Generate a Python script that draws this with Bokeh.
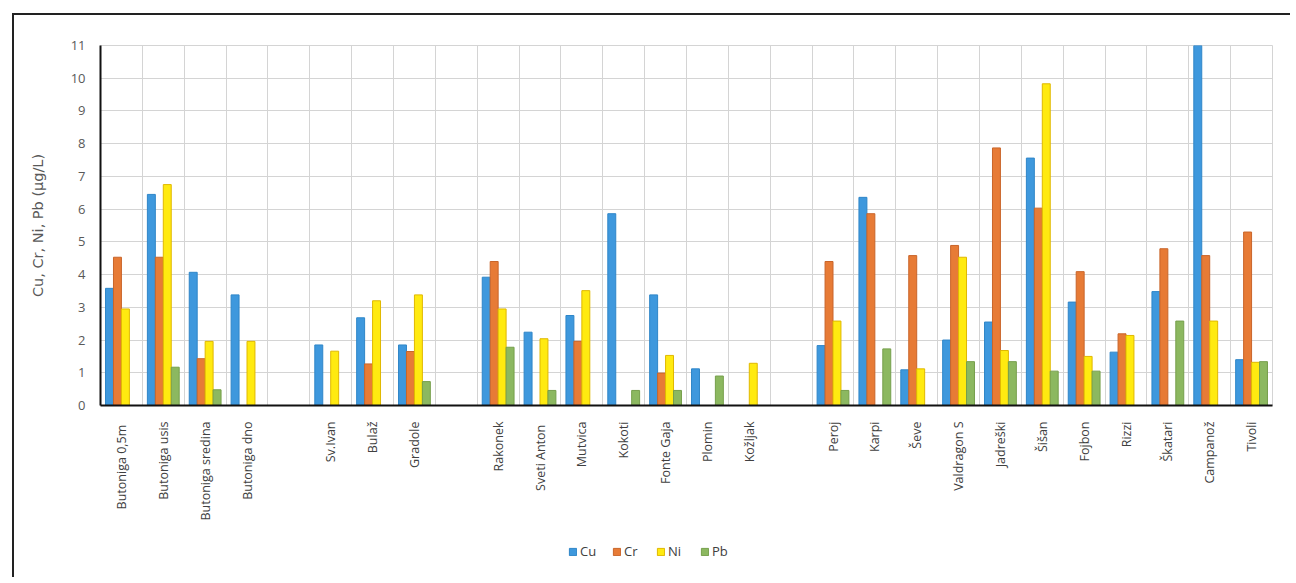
import numpy as np
from bokeh.plotting import figure
from bokeh.layouts import column
from bokeh.models import ColumnDataSource, Range1d, FixedTicker, Legend, LegendItem
from bokeh.transform import dodge
from bokeh.embed import file_html
from bokeh.resources import INLINE

nan = np.nan

categories = [
    "Butoniga  0,5m", "Butoniga usis", "Butoniga sredina", "Butoniga dno", "",
    "Sv.Ivan", "Bulaž", "Gradole", "",
    "Rakonek", "Sveti  Anton", "Mutvica", "Kokoti", "Fonte Gaja", "Plomin", "Kožljak", "",
    "Peroj", "Karpi", "Ševe", "Valdragon S", "Jadreški", "Šišan", "Fojbon", "Rizzi",
    "Škatari", "Campanož", "Tivoli",
]
cu = [3.58, 6.45, 4.07, 3.38, nan, 1.85, 2.68, 1.85, nan,
      3.92, 2.24, 2.75, 5.86, 3.38, 1.12, nan, nan,
      1.83, 6.36, 1.09, 2.00, 2.55, 7.56, 3.16, 1.63, 3.48, 11.0, 1.40]
cr = [4.53, 4.53, 1.43, nan, nan, nan, 1.27, 1.65, nan,
      4.40, nan, 1.96, nan, 0.99, nan, nan, nan,
      4.40, 5.86, 4.58, 4.89, 7.87, 6.03, 4.09, 2.19, 4.79, 4.58, 5.30]
ni = [2.95, 6.75, 1.96, 1.96, nan, 1.66, 3.20, 3.38, nan,
      2.95, 2.04, 3.51, nan, 1.53, nan, 1.29, nan,
      2.58, nan, 1.12, 4.53, 1.68, 9.83, 1.50, 2.14, nan, 2.58, 1.32]
pb = [nan, 1.17, 0.48, nan, nan, nan, nan, 0.73, nan,
      1.78, 0.46, nan, 0.46, 0.46, 0.90, nan, nan,
      0.46, 1.73, nan, 1.34, 1.34, 1.05, 1.05, nan, 2.58, nan, 1.34]

series = ["Cu", "Cr", "Ni", "Pb"]
fill_colors = ["#3E98DD", "#E77B36", "#FFEA10", "#8CB860"]
line_colors = ["#2F86C8", "#C9652A", "#E0B800", "#769F4C"]
y_ticks = list(range(0, 12))
y_label = "Cu, Cr, Ni, Pb (µg/L)"

x_centers = [i + 0.5 for i in range(len(categories))]
src = ColumnDataSource(dict(
    x=x_centers,
    Cu=np.array(cu, dtype=float),
    Cr=np.array(cr, dtype=float),
    Ni=np.array(ni, dtype=float),
    Pb=np.array(pb, dtype=float),
))

p = figure(
    width=1276, height=520,
    x_range=Range1d(0, len(categories)), y_range=Range1d(0, 11),
    output_backend="svg", toolbar_location=None,
    min_border_left=86, min_border_right=18, min_border_top=30, min_border_bottom=130,
)

bar_w = 0.19
offsets = [-1.5 * bar_w, -0.5 * bar_w, 0.5 * bar_w, 1.5 * bar_w]
for s, off, fc, lc in zip(series, offsets, fill_colors, line_colors):
    p.vbar(x=dodge("x", off), top=s, width=bar_w, bottom=0, source=src,
           fill_color=fc, line_color=lc, line_width=1)

# grid
p.xgrid.ticker = FixedTicker(ticks=list(range(len(categories) + 1)))
p.ygrid.ticker = FixedTicker(ticks=y_ticks)
p.xgrid.grid_line_color = "#D4D4D4"
p.ygrid.grid_line_color = "#D4D4D4"
p.outline_line_color = "#D4D4D4"

# x axis
p.xaxis.ticker = FixedTicker(ticks=x_centers)
p.xaxis.major_label_overrides = {xc: c for xc, c in zip(x_centers, categories)}
p.xaxis.major_label_orientation = np.pi / 2
p.xaxis.major_label_standoff = 10
p.xaxis.major_label_text_font = "Open Sans"
p.xaxis.major_label_text_font_size = "12.5px"
p.xaxis.major_label_text_color = "#404040"
p.xaxis.major_tick_line_color = None
p.xaxis.minor_tick_line_color = None
p.xaxis.axis_line_color = "#111111"
p.xaxis.axis_line_width = 2

# y axis
p.yaxis.ticker = FixedTicker(ticks=y_ticks)
p.yaxis.major_label_text_font = "Open Sans"
p.yaxis.major_label_text_font_size = "13px"
p.yaxis.major_label_text_color = "#595959"
p.yaxis.major_tick_line_color = None
p.yaxis.minor_tick_line_color = None
p.yaxis.axis_line_color = "#111111"
p.yaxis.axis_line_width = 2
p.yaxis.major_label_standoff = 9
p.yaxis.axis_label = y_label
p.yaxis.axis_label_text_font = "DejaVu Sans"
p.yaxis.axis_label_text_font_size = "14.5px"
p.yaxis.axis_label_text_font_style = "normal"
p.yaxis.axis_label_text_color = "#595959"
p.yaxis.axis_label_standoff = 22

# legend strip below the chart
lf = figure(width=1276, height=42, x_range=Range1d(0, 1), y_range=Range1d(0, 1),
            output_backend="svg", toolbar_location=None,
            min_border_left=0, min_border_right=0, min_border_top=0, min_border_bottom=0)
lf.axis.visible = False
lf.grid.visible = False
lf.outline_line_color = None
items = []
for s, fc, lc in zip(series, fill_colors, line_colors):
    r = lf.vbar(x=[-10], top=[-5], bottom=[-6], width=0.1, fill_color=fc, line_color=lc)
    items.append(LegendItem(label=s, renderers=[r]))
legend = Legend(items=items, orientation="horizontal", location=(468, 17),
                border_line_color=None, background_fill_alpha=0,
                glyph_width=9, glyph_height=9, label_text_font="Open Sans",
                label_text_font_size="13px", label_text_color="#404040",
                spacing=12, label_standoff=3, padding=4, margin=0)
lf.add_layout(legend, "center")

layout = column(p, lf, spacing=0)
layout.styles = {"border-left": "2px solid #222", "border-top": "2px solid #222",
                 "margin-left": "12px", "margin-top": "13px"}

open("out.html", "w").write(file_html(layout, INLINE))
